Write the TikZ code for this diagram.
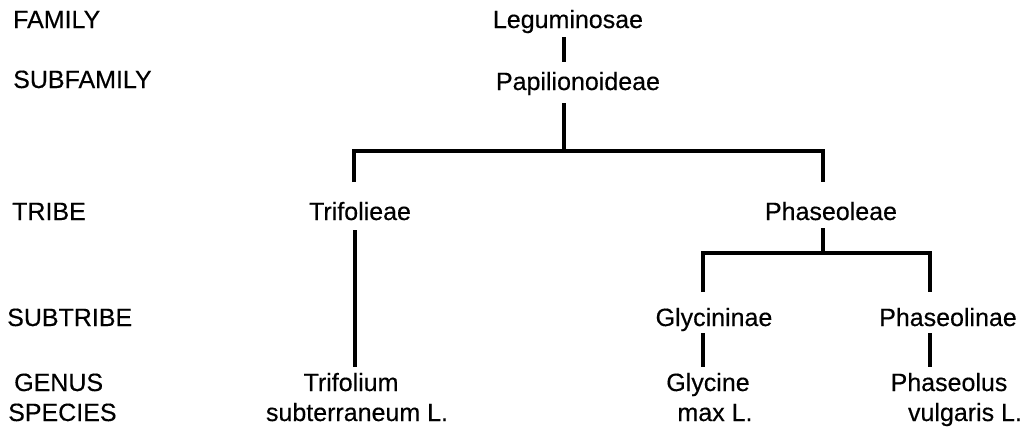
\documentclass[tikz,border=0pt]{standalone}
\usepackage{fontspec}
\setmainfont{Liberation Sans}
\newfontfamily\scanfont{Liberation Sans}[FakeBold=0.35]
\usetikzlibrary{calc}
\tikzset{
  lbl/.style={anchor=base west, inner sep=0pt, font=\scanfont\fontsize{25}{29}\selectfont},
  tx/.style={anchor=base, inner sep=0pt, font=\scanfont\fontsize{25}{29}\selectfont},
  ln/.style={line width=3.4pt, line cap=butt, line join=miter}
}
\begin{document}
\begin{tikzpicture}[x=1pt,y=-1pt]
\useasboundingbox (0,0) rectangle (1036,440);
% rank labels
\node[lbl] (fam) at (13,28) {FAMILY};
\node[lbl] (subfam) at (13,88) {SUBFAMILY};
\node[lbl] (tribe) at (12,220) {TRIBE};
\node[lbl] (subtribe) at (7,326) {SUBTRIBE};
\node[lbl] (genus) at (14,391) {GENUS};
\node[lbl] (species) at (8,421) {SPECIES};
% taxa
\node[tx] (leg) at (568,28) {Leguminosae};
\node[tx] (pap) at (578,90) {Papilionoideae};
\node[tx] (tri) at (360,220) {Trifolieae};
\node[tx] (pha) at (831,220) {Phaseoleae};
\node[tx] (gly) at (714,326) {Glycininae};
\node[tx] (phl) at (948,326) {Phaseolinae};
\node[tx] (trm) at (351,391) {Trifolium};
\node[tx] (glc) at (708,391) {Glycine};
\node[tx] (phs) at (949,391) {Phaseolus};
\node[tx] (sub) at (357,421) {subterraneum L.};
\node[tx] (max) at (715,421) {max L.};
\node[tx] (vul) at (965,421) {vulgaris L.};
% connectors
\draw[ln] (leg.base) ++(-4,9) -- ++(0,25);
\draw[ln] (pap.base) ++(-14,13) -- ++(0,48);
\draw[ln] (tri.base) ++(-6,-38) -- ++(0,-31) -| ($(pha.base)+(-8,-38)$);
\draw[ln] (tri.base) ++(-5,10) -- ++(0,137);
\draw[ln] (pha.base) ++(-8,8) -- ++(0,25);
\draw[ln] (gly.base) ++(-11,-34) -- ++(0,-39) -| ($(phl.base)+(-18,-34)$);
\draw[ln] (gly.base) ++(-11,7) -- ++(0,34);
\draw[ln] (phl.base) ++(-18,7) -- ++(0,34);
\end{tikzpicture}
\end{document}
